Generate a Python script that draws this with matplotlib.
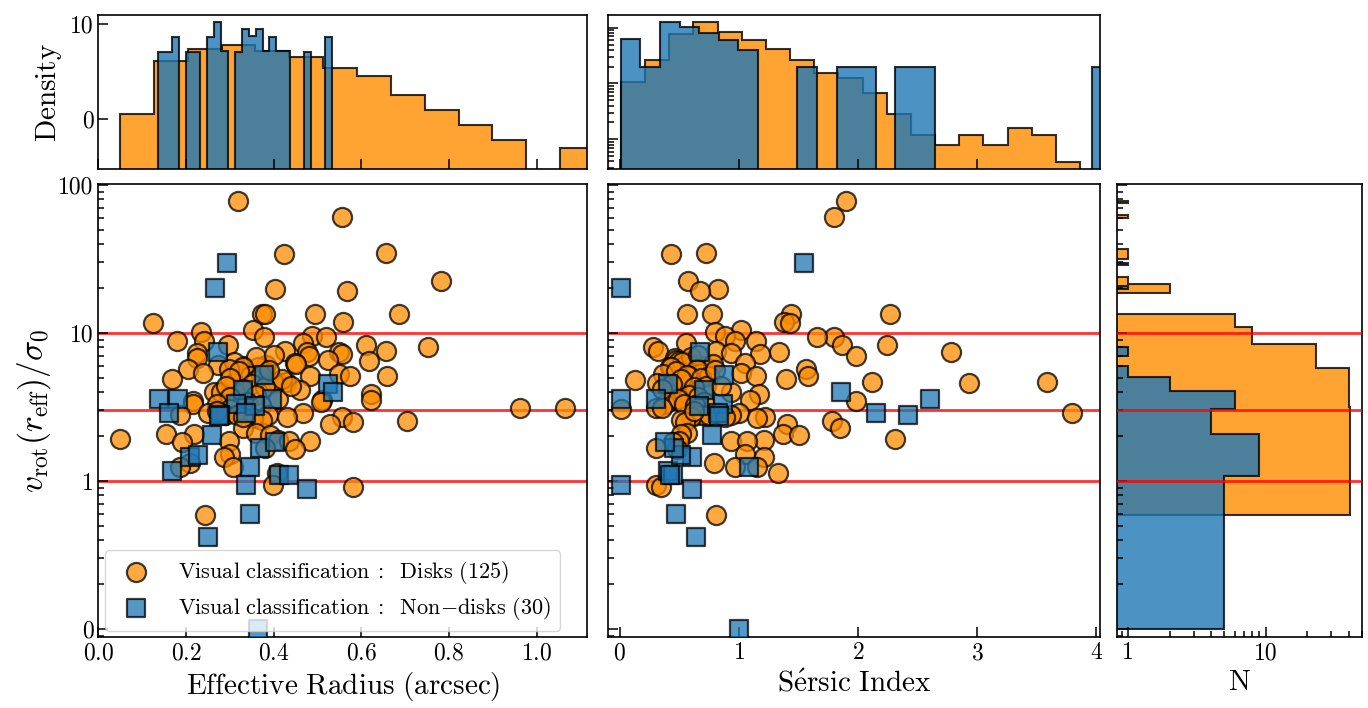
import numpy as np
import matplotlib.pyplot as plt
from matplotlib.ticker import FormatStrFormatter, NullLocator, NullFormatter

plt.rcParams['font.family'] = 'serif'
plt.rcParams['font.serif'] = ['cmr10']
plt.rcParams['mathtext.fontset'] = 'cm'
plt.rcParams['axes.formatter.use_mathtext'] = True
plt.rcParams['axes.unicode_minus'] = False

# --- visually classified disks (125) ---
disk_vsig = [78.3, 60.5, 34.7, 34.2, 22.6, 19.9, 19.2, 13.5, 13.5, 13.4, 13.4, 11.9, 11.6,
             10.4, 10.1, 9.6, 9.4, 9.4, 8.8, 8.8, 8.6,
             8.3, 8.3, 8.0, 7.6, 7.55, 7.4, 7.4, 7.3, 7.2, 7.0, 6.8, 6.6, 6.5, 6.3, 6.1, 6.1, 6.0, 5.9,
             6.9, 6.4, 7.1, 6.2, 5.85,
             5.7, 5.7, 5.4, 5.3, 5.1, 5.1, 5.1, 5.1, 4.9, 4.7, 4.7, 4.8, 4.6, 4.6, 4.1, 4.0, 4.0, 3.95,
             3.9, 3.5, 3.5, 3.45, 3.43, 3.3,
             5.5, 5.2, 5.0, 4.9, 4.5, 4.4, 4.3, 4.2, 3.8, 3.7, 3.6, 3.4, 3.3, 5.6, 4.4, 3.25,
             3.13, 3.13, 3.05, 2.9, 2.86, 2.86, 2.79, 2.79, 2.79, 2.79, 2.72, 2.72, 2.65, 2.58, 2.55,
             2.52, 2.43, 2.27, 2.10, 2.07, 2.07, 2.05, 1.91, 1.89, 1.87, 1.87, 1.86, 1.83, 1.68, 1.65,
             1.52, 1.46, 1.32, 1.25, 1.25, 1.14, 0.94, 0.91, 0.59,
             2.95, 2.7]
disk_reff = [0.318, 0.557, 0.657, 0.423, 0.781, 0.403, 0.568, 0.374, 0.379, 0.495, 0.686, 0.559, 0.124,
             0.352, 0.234, 0.487, 0.377, 0.520, 0.179, 0.241, 0.468,
             0.295, 0.611, 0.752, 0.657, 0.426, 0.477, 0.549, 0.224, 0.557, 0.481, 0.224, 0.523, 0.618,
             0.449, 0.272, 0.383, 0.329, 0.364,
             0.36, 0.31, 0.40, 0.45, 0.33,
             0.205, 0.297, 0.238, 0.550, 0.345, 0.483, 0.574, 0.658, 0.168, 0.407, 0.428, 0.36, 0.40,
             0.31, 0.460, 0.263, 0.280, 0.33, 0.622, 0.511, 0.622, 0.215, 0.508, 0.215,
             0.32, 0.37, 0.30, 0.42, 0.35, 0.29, 0.38, 0.33, 0.36, 0.30, 0.41, 0.34, 0.27, 0.39, 0.44, 0.37,
             0.963, 1.065, 0.30, 0.28, 0.251, 0.468, 0.185, 0.289, 0.316, 0.388, 0.430, 0.555, 0.352,
             0.373, 0.705, 0.581, 0.529, 0.33, 0.36, 0.154, 0.218, 0.392, 0.048, 0.41, 0.299, 0.436,
             0.482, 0.190, 0.38, 0.449, 0.30, 0.287, 0.209, 0.307, 0.185, 0.407, 0.398, 0.582, 0.243,
             0.27, 0.33]
disk_sersic = [1.90, 1.80, 0.727, 0.428, 0.573, 0.82, 0.671, 0.774, 1.435, 0.565, 2.265, 1.378, 1.432,
               1.02, 0.797, 0.88, 1.798, 1.655, 0.965, 1.141, 0.554,
               2.243, 1.865, 0.28, 0.32, 0.811, 2.78, 1.337, 0.937, 1.174, 1.98, 0.461, 0.47, 0.50,
               1.049, 0.55, 0.62, 0.70, 0.42,
               0.60, 0.52, 0.66, 0.78, 0.43,
               1.566, 0.65, 1.015, 0.36, 1.58, 1.141, 0.58, 0.75, 1.398, 3.59, 2.12, 0.126, 2.93,
               0.308, 0.60, 0.93, 0.55, 0.48, 1.17, 1.09, 0.45, 1.985, 0.40, 0.38,
               0.47, 0.56, 0.68, 0.51, 0.44, 0.72, 0.62, 0.35, 0.58, 0.66, 0.49, 0.71, 0.54, 0.80, 0.85, 0.63,
               0.30, 0.35, 0.01, 3.80, 0.82, 0.999, 0.93, 0.65, 0.70, 0.75, 1.22, 0.60, 1.15,
               0.517, 1.784, 0.55, 1.407, 1.846, 0.565, 0.51, 1.37, 1.504, 2.31, 1.211, 0.929, 1.071,
               0.50, 0.45, 0.302, 0.48, 1.05, 1.211, 0.791, 1.15, 0.965, 1.328, 0.302, 0.344, 0.811,
               0.62, 0.88]

# --- non-disks (30) ---
nondisk_vsig = [29.7, 20.2, 7.4, 5.2, 4.5, 4.0, 4.1, 3.6, 3.6, 3.6, 3.3, 3.2, 2.87, 2.8, 2.87,
                1.16, 1.45, 1.50, 2.05, 1.68, 1.25, 0.94, 1.82, 1.10, 1.10, 0.88, 0.60, 0.42, 0.10, 2.75]
nondisk_reff = [0.293, 0.266, 0.272, 0.377, 0.525, 0.535, 0.331, 0.137, 0.181, 0.396, 0.314, 0.357,
                0.162, 0.278, 0.337, 0.167, 0.208, 0.228, 0.259, 0.368, 0.345, 0.337, 0.403, 0.413,
                0.434, 0.477, 0.345, 0.250, 0.364, 0.275]
nondisk_sersic = [1.544, 0.008, 0.671, 0.875, 0.405, 1.854, 0.707, 2.60, 0.008, 0.302, 0.867, 0.665,
                  2.148, 2.42, 0.82, 0.405, 0.609, 0.517, 0.777, 0.453, 1.085, 0.008, 0.378, 0.45,
                  0.42, 0.609, 0.475, 0.643, 0.998, 0.83]

# --- top histograms (density) ---
reff_edges_disk = [0.049, 0.126, 0.204, 0.281, 0.358, 0.436, 0.513, 0.590, 0.667, 0.745, 0.822,
                   0.899, 0.977, 1.054, 1.131]
reff_dens_disk = [0.123, 1.59, 2.95, 3.47, 2.67, 1.96, 1.15, 0.79, 0.32, 0.15, 0.072, 0.035, 0, 0.024]
reff_edges_nondisk = [0.136, 0.152, 0.168, 0.184, 0.200, 0.216, 0.232, 0.247, 0.263, 0.279, 0.295,
                      0.311, 0.327, 0.343, 0.359, 0.375, 0.390, 0.406, 0.422, 0.438, 0.454, 0.470,
                      0.486, 0.502, 0.518, 0.534]
reff_dens_nondisk = [2.51, 2.51, 5.13, 0, 2.51, 2.51, 0, 5.13, 10.7, 2.67, 0, 2.51, 7.7, 5.38, 7.7,
                     2.67, 5.13, 2.67, 2.67, 0, 0, 2.51, 0, 0, 5.13]
sersic_edges_disk = [0.008, 0.211, 0.414, 0.617, 0.820, 1.023, 1.226, 1.429, 1.632, 1.835, 2.038,
                     2.241, 2.444, 2.647, 2.850, 3.053, 3.256, 3.459, 3.662, 3.865]
sersic_dens_disk = [0.107, 0.259, 0.780, 1.25, 0.824, 0.600, 0.414, 0.259, 0.156, 0.123, 0.068,
                    0.0281, 0.0118, 0.0079, 0.0118, 0.0079, 0.0162, 0.0118, 0.00386]
sersic_edges_nondisk = [0.008, 0.173, 0.337, 0.502, 0.667, 0.832, 0.996, 1.161, 1.326, 1.490, 1.655,
                        1.820, 1.984, 2.149, 2.314, 2.479, 2.643, 2.808, 2.973, 3.137, 3.302, 3.467,
                        3.632, 3.796, 3.961, 4.126]
sersic_dens_nondisk = [0.617, 0.197, 1.25, 1.03, 0.813, 0.600, 0.397, 0, 0, 0.197, 0, 0.197, 0.197,
                       0, 0.197, 0.197, 0, 0, 0, 0, 0, 0, 0, 0, 0.197]

vsig_cuts = [1, 3, 10]

ORANGE = 'darkorange'
BLUE = 'tab:blue'

fig = plt.figure(figsize=(13.68, 7.08), dpi=100)
ax_t1 = fig.add_axes([0.0720, 0.7613, 0.3570, 0.2175])
ax_t2 = fig.add_axes([0.4444, 0.7613, 0.3596, 0.2175])
ax1 = fig.add_axes([0.0720, 0.0996, 0.3570, 0.6401])
ax2 = fig.add_axes([0.4444, 0.0996, 0.3596, 0.6401])
ax3 = fig.add_axes([0.8165, 0.0996, 0.1791, 0.6401])

lab_d = r'$\rm Visual\ classification\;:\;\ Disks\ (125)$'
lab_n = r'$\rm Visual\ classification\;:\;\ Non{-}disks\ (30)$'
kw_d = dict(marker='o', s=190, color=ORANGE, edgecolors='k', linewidths=1.6, alpha=0.75, zorder=3)
kw_n = dict(marker='s', s=170, color=BLUE, edgecolors='k', linewidths=1.6, alpha=0.75, zorder=4)

# main panels
ax1.scatter(disk_reff, disk_vsig, label=lab_d, **kw_d)
ax1.scatter(nondisk_reff, nondisk_vsig, label=lab_n, **kw_n)
ax2.scatter(disk_sersic, disk_vsig, **kw_d)
ax2.scatter(nondisk_sersic, nondisk_vsig, **kw_n)

# right histogram
ax3.set_xscale('log')
ax3.hist(disk_vsig, bins=30, orientation='horizontal', histtype='stepfilled',
         color=ORANGE, alpha=0.8, edgecolor='k', lw=1.5)
ax3.hist(nondisk_vsig, bins=30, orientation='horizontal', histtype='stepfilled',
         color=BLUE, alpha=0.8, edgecolor='k', lw=1.5)

for ax in (ax1, ax2, ax3):
    for c in vsig_cuts:
        ax.axhline(c, color='red', lw=2, alpha=0.8, zorder=5 if ax is ax3 else 1)
    ax.set_yscale('log')
    ax.set_ylim(0.0876, 101.1)
    ax.set_yticks([0.1, 1, 10, 100])
    ax.yaxis.set_major_formatter(FormatStrFormatter('%d'))

ax1.set_xlim(0, 1.115)
ax2.set_xlim(-0.1, 4.03)
ax3.set_xlim(0.83, 50)
ax3.set_xticks([1, 10])
ax3.xaxis.set_major_formatter(FormatStrFormatter('%d'))
ax3.xaxis.set_minor_formatter(NullFormatter())
ax2.tick_params(labelleft=False)
ax3.tick_params(labelleft=False)

# top histograms
ax_t1.stairs(reff_dens_disk, reff_edges_disk, fill=True, facecolor=ORANGE, edgecolor='k',
             lw=1.5, alpha=0.8, baseline=1e-4)
ax_t1.stairs(reff_dens_nondisk, reff_edges_nondisk, fill=True, facecolor=BLUE, edgecolor='k',
             lw=1.5, alpha=0.8, baseline=1e-4)
ax_t1.set_yscale('log')
ax_t1.set_ylim(0.0087, 15.1)
ax_t1.set_yticks([0.1, 10])
ax_t1.yaxis.set_major_formatter(FormatStrFormatter('%d'))
ax_t1.yaxis.set_minor_locator(NullLocator())
ax_t1.set_xlim(ax1.get_xlim())
ax_t1.tick_params(labelbottom=False)
ax_t1.set_ylabel(r'$\rm Density$', fontsize=21)

ax_t2.stairs(sersic_dens_disk, sersic_edges_disk, fill=True, facecolor=ORANGE, edgecolor='k',
             lw=1.5, alpha=0.8, baseline=1e-5)
ax_t2.stairs(sersic_dens_nondisk, sersic_edges_nondisk, fill=True, facecolor=BLUE, edgecolor='k',
             lw=1.5, alpha=0.8, baseline=1e-5)
ax_t2.set_yscale('log')
ax_t2.set_ylim(0.00293, 1.69)
ax_t2.yaxis.set_major_formatter(NullFormatter())
ax_t2.yaxis.set_minor_formatter(NullFormatter())
ax_t2.set_xlim(ax2.get_xlim())
ax_t2.set_xticks([0, 1, 2, 3])
ax_t2.tick_params(labelbottom=False)

for ax in (ax_t1, ax_t2, ax1, ax2, ax3):
    ax.tick_params(which='both', direction='in', labelsize=17, width=1.1)
    ax.tick_params(which='major', length=7)
    ax.tick_params(which='minor', length=4)
    for sp in ax.spines.values():
        sp.set_linewidth(1.2)

ax1.set_xlabel(r'$\rm Effective\ Radius\ (arcsec)$', fontsize=21)
ax2.set_xlabel(r'$\mathrm{S\acute{e}rsic\ Index}$', fontsize=21)
ax3.set_xlabel(r'$\rm N$', fontsize=21)
ax1.set_ylabel(r'$v_{\rm rot}(r_{\rm eff})/\sigma_0$', fontsize=24)

ax1.legend(loc='lower left', fontsize=16, handletextpad=0.9, labelspacing=0.4,
           borderaxespad=0.3, scatterpoints=1)

fig.savefig('out.png', dpi=100)
